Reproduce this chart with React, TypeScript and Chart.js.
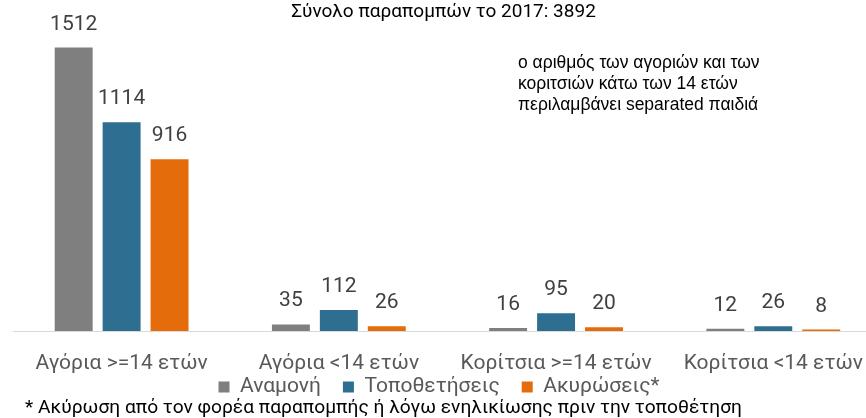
import React, { useEffect, useRef } from "react";
import { Chart, registerables } from "chart.js";

Chart.register(...registerables);

const categories = [
  "Αγόρια >=14 ετών",
  "Αγόρια <14 ετών",
  "Κορίτσια >=14 ετών",
  "Κορίτσια <14 ετών",
];
const seriesNames = ["Αναμονή", "Τοποθετήσεις", "Ακυρώσεις*"];
const waiting = [1512, 35, 16, 12];
const placements = [1114, 112, 95, 26];
const cancellations = [916, 26, 20, 8];
const seriesColors = ["#7F7F7F", "#2E6F91", "#E46C0A"];
const titleText = "Σύνολο παραπομπών το 2017: 3892";
const noteLines = [
  "ο αριθμός των αγοριών και των",
  "κοριτσιών κάτω των 14 ετών",
  "περιλαμβάνει separated παιδιά",
];
const footnote =
  "* Ακύρωση από τον φορέα παραπομπής ή λόγω ενηλικίωσης πριν την τοποθέτηση";

const FONT = "Roboto, 'Noto Sans', sans-serif";

const layoutTweak = {
  id: "layoutTweak",
  afterLayout(chart: any) {
    const lg = chart.legend;
    if (lg) {
      const top = chart.chartArea.bottom + 23.5;
      lg.top = top;
      lg.bottom = top + 53;
      lg.height = 53;
      lg.left -= 9;
      lg.right -= 9;
    }
    const tb = chart.titleBlock;
    if (tb) {
      tb.left -= 4.5;
      tb.right -= 4.5;
    }
  },
};

const textPlugin = {
  id: "extraTexts",
  afterDatasetsDraw(chart: any) {
    const ctx = chart.ctx as CanvasRenderingContext2D;
    ctx.save();
    ctx.font = `21px ${FONT}`;
    ctx.fillStyle = "#404040";
    ctx.textAlign = "center";
    ctx.textBaseline = "alphabetic";
    chart.data.datasets.forEach((ds: any, i: number) => {
      const meta = chart.getDatasetMeta(i);
      meta.data.forEach((bar: any, j: number) => {
        ctx.fillText(String(ds.data[j]), bar.x, bar.y - 18);
      });
    });
    ctx.font = "17.5px 'Liberation Sans', Arial, sans-serif";
    ctx.fillStyle = "#000000";
    ctx.textAlign = "left";
    noteLines.forEach((line, k) => {
      ctx.fillText(line, 518, 68 + k * 21);
    });
    ctx.font = `19.2px ${FONT}`;
    ctx.fillStyle = "#000000";
    ctx.fillText(footnote, 25, 413);
    ctx.restore();
  },
};

export default function App() {
  const ref = useRef<HTMLCanvasElement | null>(null);

  useEffect(() => {
    if (!ref.current) return;
    const chart = new Chart(ref.current, {
      type: "bar",
      data: {
        labels: categories,
        datasets: [
          { label: seriesNames[0], data: waiting, backgroundColor: seriesColors[0], borderColor: seriesColors[0], borderWidth: 0 },
          { label: seriesNames[1], data: placements, backgroundColor: seriesColors[1], borderColor: seriesColors[1], borderWidth: 0 },
          { label: seriesNames[2], data: cancellations, backgroundColor: seriesColors[2], borderColor: seriesColors[2], borderWidth: 0 },
        ],
      },
      options: {
        animation: false,
        responsive: false,
        devicePixelRatio: 1,
        categoryPercentage: 0.662,
        barPercentage: 0.7917,
        layout: { padding: { left: 13, right: 1, top: 0, bottom: 0 } },
        scales: {
          x: {
            grid: { display: false, drawTicks: false },
            border: { display: true, color: "#D9D9D9", width: 1 },
            ticks: {
              padding: 21,
              color: "#595959",
              font: { family: FONT, size: 21, lineHeight: 1.1 },
              maxRotation: 0,
              autoSkip: false,
            },
          },
          y: { display: false, min: 0, max: 1600 },
        },
        plugins: {
          title: {
            display: true,
            text: titleText,
            color: "#000000",
            font: { family: FONT, size: 19, weight: "normal" },
            padding: { top: 1, bottom: 7.2 },
          },
          legend: {
            position: "bottom",
            maxHeight: 21.9,
            labels: {
              boxWidth: 11,
              boxHeight: 11,
              padding: 22,
              color: "#595959",
              font: { family: FONT, size: 21 },
            },
          },
          tooltip: { enabled: false },
        },
      },
      plugins: [layoutTweak, textPlugin],
    });
    return () => chart.destroy();
  }, []);

  return (
    <div style={{ position: "absolute", left: 0, top: 0, width: 866, height: 418, overflow: "hidden", background: "#fff" }}>
      <canvas ref={ref} width={884} height={418} style={{ display: "block", width: 884, height: 418 }} />
    </div>
  );
}
